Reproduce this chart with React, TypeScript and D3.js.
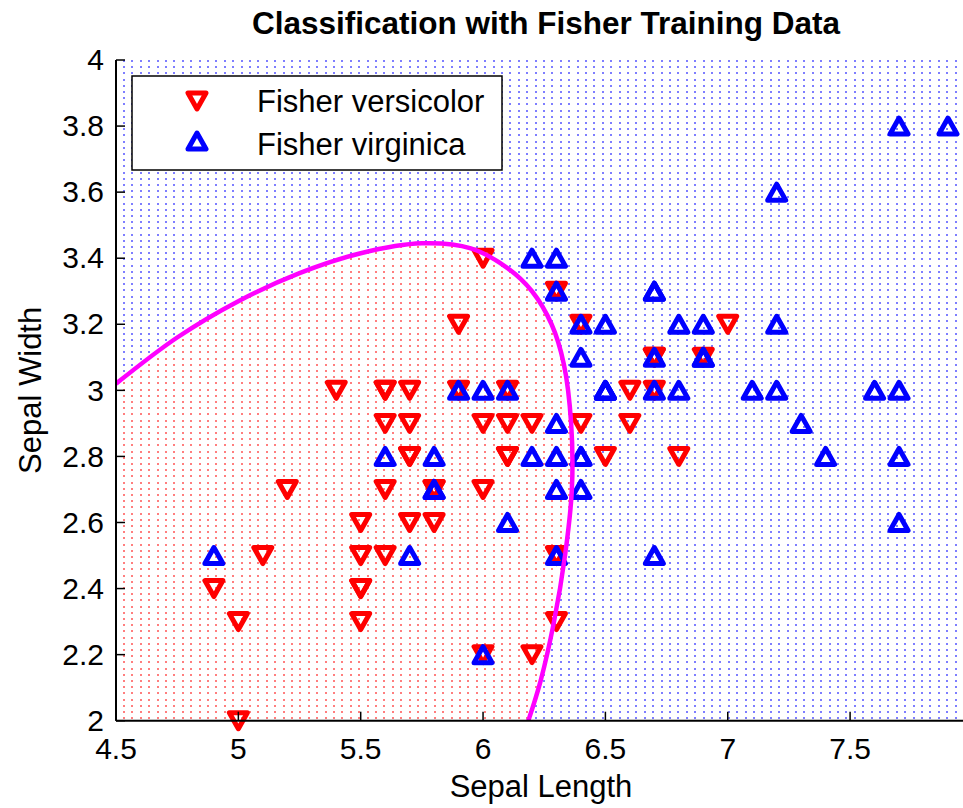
import React from 'react';
import * as d3 from 'd3';

const W = 963;
const H = 808;

const versicolorLength = [7.0,6.4,6.9,5.5,6.5,5.7,6.3,4.9,6.6,5.2,5.0,5.9,6.0,6.1,5.6,6.7,5.6,5.8,6.2,5.6,5.9,6.1,6.3,6.1,6.4,6.6,6.8,6.7,6.0,5.7,5.5,5.5,5.8,6.0,5.4,6.0,6.7,6.3,5.6,5.5,5.5,6.1,5.8,5.0,5.6,5.7,5.7,6.2,5.1,5.7];
const versicolorWidth = [3.2,3.2,3.1,2.3,2.8,2.8,3.3,2.4,2.9,2.7,2.0,3.0,2.2,2.9,2.9,3.1,3.0,2.7,2.2,2.5,3.2,2.8,2.5,2.8,2.9,3.0,2.8,3.0,2.9,2.6,2.4,2.4,2.7,2.7,3.0,3.4,3.1,2.3,3.0,2.5,2.6,3.0,2.6,2.3,2.7,3.0,2.9,2.9,2.5,2.8];
const virginicaLength = [6.3,5.8,7.1,6.3,6.5,7.6,4.9,7.3,6.7,7.2,6.5,6.4,6.8,5.7,5.8,6.4,6.5,7.7,7.7,6.0,6.9,5.6,7.7,6.3,6.7,7.2,6.2,6.1,6.4,7.2,7.4,7.9,6.4,6.3,6.1,7.7,6.3,6.4,6.0,6.9,6.7,6.9,5.8,6.8,6.7,6.7,6.3,6.5,6.2,5.9];
const virginicaWidth = [3.3,2.7,3.0,2.9,3.0,3.0,2.5,2.9,2.5,3.6,3.2,2.7,3.0,2.5,2.8,3.2,3.0,3.8,2.6,2.2,3.2,2.8,2.8,2.7,3.3,3.2,2.8,3.0,2.8,3.0,2.8,3.8,2.8,2.8,2.6,3.0,3.4,3.1,3.0,3.1,3.1,3.1,2.7,3.2,3.3,3.0,2.5,3.0,3.4,3.0];

// decision boundary
const boundaryLength = [4.5, 4.75, 5.0, 5.25, 5.5, 5.75, 5.95, 6.1, 6.2, 6.28, 6.33, 6.36, 6.363, 6.335, 6.29, 6.235, 6.185];
const boundaryWidth = [3.02, 3.16, 3.27, 3.355, 3.415, 3.445, 3.43, 3.37, 3.3, 3.2, 3.08, 2.9, 2.7, 2.5, 2.3, 2.12, 2.0];

const xTicks = [4.5, 5, 5.5, 6, 6.5, 7, 7.5];
const yTicks = [2, 2.2, 2.4, 2.6, 2.8, 3, 3.2, 3.4, 3.6, 3.8, 4];

const seriesNames = ['Fisher versicolor', 'Fisher virginica'];

const FONT = "'Liberation Sans', Arial, Helvetica, sans-serif";

const downTri = 'M-9,-8L9,-8L0,8Z';
const upTri = 'M0,-8L9,8L-9,8Z';

export default function App() {
  const left = 116, top = 60, bottom = 720.7;
  const x = d3.scaleLinear().domain([4.5, 8]).range([left, left + 3.5 * 244.7]);
  const y = d3.scaleLinear().domain([2, 4]).range([bottom, top]);

  const bpts: [number, number][] = boundaryLength.map((v, i) => [v, boundaryWidth[i]]);
  const line = d3.line<[number, number]>().x(d => x(d[0])).y(d => y(d[1])).curve(d3.curveCatmullRom.alpha(0.5));
  const curvePath = line(bpts) || '';
  const regionPath = curvePath + `L${x(4.5)},${y(2)}Z`;

  const versicolor = versicolorLength.map((v, i) => [v, versicolorWidth[i]]);
  const virginica = virginicaLength.map((v, i) => [v, virginicaWidth[i]]);

  const colX = [0, 8, 17, 25, 34];
  const rowY = [0, 6, 12, 19, 25];

  const dots = (color: string) =>
    colX.flatMap(cx => rowY.map(ry => (
      <rect key={`${cx}-${ry}`} x={cx} y={ry} width={2} height={2} fill={color} />
    )));

  const markerStroke = 5;

  return (
    <svg width={W} height={H} style={{ position: 'absolute', left: 0, top: 0, background: '#fff' }}
      xmlns="http://www.w3.org/2000/svg">
      <defs>
        <pattern id="blueDots" patternUnits="userSpaceOnUse" x={123} y={60} width={42} height={31}>
          {dots('rgba(40,40,255,0.6)')}
        </pattern>
        <pattern id="redDots" patternUnits="userSpaceOnUse" x={123} y={60} width={42} height={31}>
          {dots('rgba(255,40,40,0.6)')}
        </pattern>
        <clipPath id="plotClip">
          <rect x={left} y={top} width={W - left} height={bottom - top} />
        </clipPath>
      </defs>
      <rect x={0} y={0} width={W} height={H} fill="#fff" />
      <g clipPath="url(#plotClip)">
        <rect x={left} y={top} width={W - left} height={bottom - top} fill="url(#blueDots)" />
        <path d={regionPath} fill="#fff" />
        <path d={regionPath} fill="url(#redDots)" />
      </g>
      <g>
        {versicolor.map((d, i) => (
          <path key={`v${i}`} d={downTri} transform={`translate(${x(d[0])},${y(d[1])})`}
            fill="none" stroke="#ff0000" strokeWidth={markerStroke} strokeLinejoin="round" />
        ))}
        {virginica.map((d, i) => (
          <path key={`g${i}`} d={upTri} transform={`translate(${x(d[0])},${y(d[1])})`}
            fill="none" stroke="#0000ff" strokeWidth={markerStroke} strokeLinejoin="round" />
        ))}
      </g>
      <g clipPath="url(#plotClip)">
        <path d={curvePath} fill="none" stroke="#ff00ff" strokeWidth={4.5} />
      </g>
      {/* axes */}
      <line x1={left} x2={left} y1={top} y2={bottom} stroke="#000" strokeWidth={2} />
      <line x1={left} x2={W} y1={bottom} y2={bottom} stroke="#000" strokeWidth={2} />
      {xTicks.map(t => (
        <g key={`xt${t}`}>
          <line x1={x(t)} x2={x(t)} y1={bottom} y2={bottom - 9} stroke="#000" strokeWidth={1.5} />
          <text x={x(t)} y={759} textAnchor="middle" fontFamily={FONT} fontSize={30} fill="#000">{t}</text>
        </g>
      ))}
      {yTicks.map(t => (
        <g key={`yt${t}`}>
          <line x1={left} x2={left + 9} y1={y(t)} y2={y(t)} stroke="#000" strokeWidth={1.5} />
          <text x={104} y={y(t)} dy="0.34em" textAnchor="end" fontFamily={FONT} fontSize={30} fill="#000">{t}</text>
        </g>
      ))}
      <text x={541} y={797} textAnchor="middle" fontFamily={FONT} fontSize={31} fill="#000">Sepal Length</text>
      <text transform={`translate(41,${(top + bottom) / 2}) rotate(-90)`} textAnchor="middle" fontFamily={FONT} fontSize={31} fill="#000">Sepal Width</text>
      <text x={546} y={34} textAnchor="middle" fontFamily={FONT} fontSize={31.5} fontWeight="bold" fill="#000">Classification with Fisher Training Data</text>
      {/* legend */}
      <rect x={132} y={76} width={370} height={94} fill="#fff" stroke="#000" strokeWidth={1.5} />
      <path d={downTri} transform="translate(197,101)" fill="none" stroke="#ff0000" strokeWidth={markerStroke} strokeLinejoin="round" />
      <path d={upTri} transform="translate(197,141)" fill="none" stroke="#0000ff" strokeWidth={markerStroke} strokeLinejoin="round" />
      <text x={257} y={112} fontFamily={FONT} fontSize={31} fill="#000">{seriesNames[0]}</text>
      <text x={257} y={155} fontFamily={FONT} fontSize={31} fill="#000">{seriesNames[1]}</text>
    </svg>
  );
}
